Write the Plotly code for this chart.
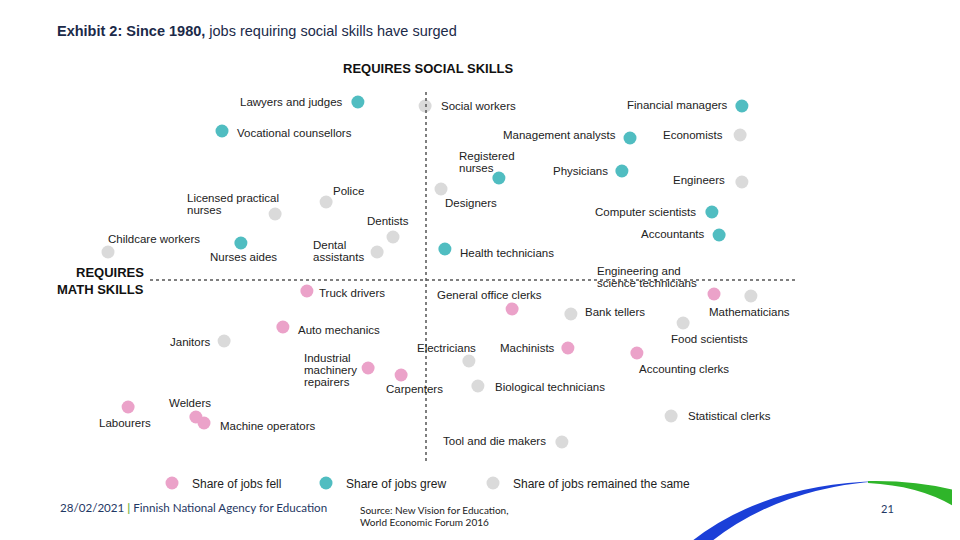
import plotly.graph_objects as go

# ---------------- data ----------------
jobs = [
    "Lawyers and judges", "Social workers", "Financial managers", "Vocational counsellors",
    "Management analysts", "Economists", "Registered<br>nurses", "Physicians", "Engineers",
    "Police", "Designers", "Licensed practical<br>nurses", "Computer scientists", "Dentists",
    "Accountants", "Childcare workers", "Nurses aides", "Dental<br>assistants",
    "Health technicians", "Engineering and<br>science technicians", "Mathematicians",
    "Truck drivers", "General office clerks", "Bank tellers", "Food scientists",
    "Auto mechanics", "Janitors", "Electricians", "Machinists", "Accounting clerks",
    "Industrial<br>machinery<br>repairers", "Carpenters", "Biological technicians",
    "Labourers", "Statistical clerks", "Welders", "Machine operators", "Tool and die makers",
]
# math skill (horizontal, 0 = divider) and social skill (vertical, 0 = divider)
math_skill = [
    -22.7, -0.3, 105.3, -68.0, 68.0, 104.7, 24.3, 65.3, 105.3, -33.3, 5.0, -50.3, 95.3,
    -11.0, 97.7, -106.0, -61.7, -16.3, 6.3, 96.0, 108.3, -39.7, 28.7, 48.3, 85.7, -47.7,
    -67.3, 14.3, 47.3, 70.3, -19.3, -8.3, 17.3, -99.3, 81.7, -76.7, -74.0, 45.3,
]
social_skill = [
    89.0, 87.0, 87.0, 74.5, 71.0, 72.5, 51.0, 54.5, 49.0, 39.0, 45.5, 33.0, 34.0,
    21.5, 22.5, 14.0, 18.5, 14.0, 15.5, -7.0, -8.0, -5.5, -14.5, -17.0, -21.5, -23.5,
    -30.5, -40.5, -34.0, -36.5, -44.0, -47.5, -53.0, -63.5, -68.0, -68.5, -71.5, -81.0,
]
change = [
    "grew", "same", "grew", "grew", "grew", "same", "grew", "grew", "same", "same", "same",
    "same", "grew", "same", "grew", "same", "grew", "same", "grew", "fell", "same", "fell",
    "fell", "same", "same", "fell", "same", "same", "fell", "fell", "fell", "fell", "same",
    "fell", "same", "fell", "fell", "same",
]
groups = ["fell", "grew", "same"]
group_names = ["Share of jobs fell", "Share of jobs grew", "Share of jobs remained the same"]

# ---------------- styles ----------------
COLORS = {"fell": "#eba2c9", "grew": "#50bdc1", "same": "#dadada"}
W, H = 960, 540
OFF = 8  # page body margin in the browser
X_RANGE = [(OFF - 426) / 3, (OFF + W - 426) / 3]
Y_RANGE = [(280 - OFF - H) / 2, (280 - OFF) / 2]
LABEL_FONT = dict(family="Liberation Sans, Arial, sans-serif", size=11.5, color="#222222")
LINE_GAP = 12

# label placement: (xanchor, xshift, yshift)
LABEL_STYLE = [
    ("right", -13, 0), ("left", 14, 0), ("right", -12, 1),
    ("left", 13, -2), ("right", -12, 3), ("right", -15, 0),
    ("left", -42, 16), ("right", -12, 0), ("right", -15, 2),
    ("left", 5, 11), ("left", 2, -14), ("left", -90, 10),
    ("right", -14, 0), ("left", -28, 16), ("right", -12, 1),
    ("left", -2, 13), ("center", 3, -14), ("left", -66, 1),
    ("left", 13, -4), ("left", -119, 17), ("center", -1, -16),
    ("left", 10, -2), ("center", -23, 14), ("left", 12, 2),
    ("center", 26, -16), ("left", 13, -3), ("right", -11, -1),
    ("center", -22, 13), ("right", -11, 0), ("left", 0, -16),
    ("left", -66, -2), ("center", 13, -14), ("left", 15, -1),
    ("center", -3, -16), ("left", 15, 0), ("center", -6, 14),
    ("left", 14, -3), ("right", -14, 1),
]


def px(x, y):
    """page pixel -> paper coordinates (for decorations only)"""
    return (x - OFF) / W, 1 - (y - OFF) / H


fig = go.Figure()

legend_ids = ["legend", "legend2", "legend3"]
for g, name, lid in zip(groups, group_names, legend_ids):
    idx = [i for i, c in enumerate(change) if c == g]
    fig.add_trace(go.Scatter(
        x=[math_skill[i] for i in idx],
        y=[social_skill[i] for i in idx],
        mode="markers",
        name=name,
        legend=lid,
        marker=dict(size=13, color=COLORS[g], line=dict(width=0)),
        hoverinfo="text",
        text=[jobs[i].replace("<br>", " ") for i in idx],
    ))

annotations = []
for i, job in enumerate(jobs):
    xa, xs, ys = LABEL_STYLE[i]
    lines = job.split("<br>")
    n = len(lines)
    for k, line in enumerate(lines):
        annotations.append(dict(
            x=math_skill[i], y=social_skill[i], xref="x", yref="y", text=line,
            showarrow=False, xanchor=xa, yanchor="middle", xshift=xs,
            yshift=ys + (n - 1) / 2 * LINE_GAP - k * LINE_GAP,
            font=LABEL_FONT,
        ))

# titles / axis captions
tx, ty = px(55, 31)
annotations.append(dict(
    x=tx, y=ty, xref="paper", yref="paper", xanchor="left", yanchor="middle",
    showarrow=False,
    text="<b>Exhibit 2: Since 1980,</b> jobs requiring social skills have surged",
    font=dict(family="Liberation Sans, Arial, sans-serif", size=14.5, color="#1b2a49"),
))
sx, sy = px(428, 69)
annotations.append(dict(
    x=sx, y=sy, xref="paper", yref="paper", xanchor="center", yanchor="middle",
    showarrow=False, text="<b>REQUIRES SOCIAL SKILLS</b>",
    font=dict(family="Liberation Sans, Arial, sans-serif", size=13, color="#111111"),
))
mx, my = px(146, 272)
annotations.append(dict(
    x=mx, y=my, xref="paper", yref="paper", xanchor="right", yanchor="middle",
    showarrow=False, text="<b>REQUIRES</b>",
    font=dict(family="Liberation Sans, Arial, sans-serif", size=13, color="#111111"),
))
mx, my = px(146, 289)
annotations.append(dict(
    x=mx, y=my, xref="paper", yref="paper", xanchor="right", yanchor="middle",
    showarrow=False, text="<b>MATH SKILLS</b>",
    font=dict(family="Liberation Sans, Arial, sans-serif", size=13, color="#111111"),
))
# footer
fx, fy = px(58, 507)
annotations.append(dict(
    x=fx, y=fy, xref="paper", yref="paper", xanchor="left", yanchor="middle",
    showarrow=False,
    text="28/02/2021 <span style='color:#7ab648'><b>|</b></span> Finnish National Agency for Education",
    font=dict(family="Lato, sans-serif", size=11.6, color="#1f3864"),
))
cx, cy = px(358, 510)
annotations.append(dict(
    x=cx, y=cy, xref="paper", yref="paper", xanchor="left", yanchor="middle",
    showarrow=False, text="Source: New Vision for Education,",
    font=dict(family="Lato, sans-serif", size=10, color="#222222"),
))
cx, cy = px(358, 522)
annotations.append(dict(
    x=cx, y=cy, xref="paper", yref="paper", xanchor="left", yanchor="middle",
    showarrow=False, text="World Economic Forum 2016",
    font=dict(family="Lato, sans-serif", size=10, color="#222222"),
))
nx, ny = px(887, 508)
annotations.append(dict(
    x=nx, y=ny, xref="paper", yref="paper", xanchor="center", yanchor="middle",
    showarrow=False, text="21",
    font=dict(family="Lato, sans-serif", size=11, color="#1f3864"),
))


def path(points):
    parts = []
    for cmd, pts in points:
        coords = " ".join("%.5f,%.5f" % px(*p) for p in pts)
        parts.append(cmd + " " + coords)
    return " ".join(parts) + " Z"


shapes = [
    # quadrant dividers (data coords)
    dict(type="line", xref="x", yref="y", x0=0, x1=0, y0=94, y1=-91,
         line=dict(color="#555555", width=1.5, dash="dot")),
    dict(type="line", xref="x", yref="y", x0=-92, x1=123, y0=0, y1=0,
         line=dict(color="#555555", width=1.5, dash="dot")),
    # decorative swoosh
    dict(type="path", xref="paper", yref="paper", layer="below", line=dict(width=0),
         fillcolor="#1b3fd8",
         path=path([("M", [(692, 541)]), ("Q", [(765, 484), (880, 481)]),
                    ("Q", [(780, 488), (712, 541)])])),
    dict(type="path", xref="paper", yref="paper", layer="below", line=dict(width=0),
         fillcolor="#2fb52a",
         path=path([("M", [(868, 481)]), ("Q", [(920, 480), (961, 492)]),
                    ("L", [(961, 511)]), ("Q", [(925, 486), (868, 483)])])),
]

legend_common = dict(orientation="h", xanchor="left", yanchor="middle",
                     bgcolor="rgba(0,0,0,0)", borderwidth=0, itemwidth=30,
                     font=dict(family="Liberation Sans, Arial, sans-serif", size=12,
                               color="#222222"))
lx1, ly = px(152, 483)
lx2, _ = px(306, 483)
lx3, _ = px(473, 483)

fig.update_layout(
    width=W, height=H,
    margin=dict(l=0, r=0, t=0, b=0),
    paper_bgcolor="white", plot_bgcolor="white",
    xaxis=dict(range=X_RANGE, visible=False, fixedrange=True),
    yaxis=dict(range=Y_RANGE, visible=False, fixedrange=True),
    annotations=annotations,
    shapes=shapes,
    legend=dict(x=lx1, y=ly, **legend_common),
    legend2=dict(x=lx2, y=ly, **legend_common),
    legend3=dict(x=lx3, y=ly, **legend_common),
    showlegend=True,
)

fig.write_html("out.html")
